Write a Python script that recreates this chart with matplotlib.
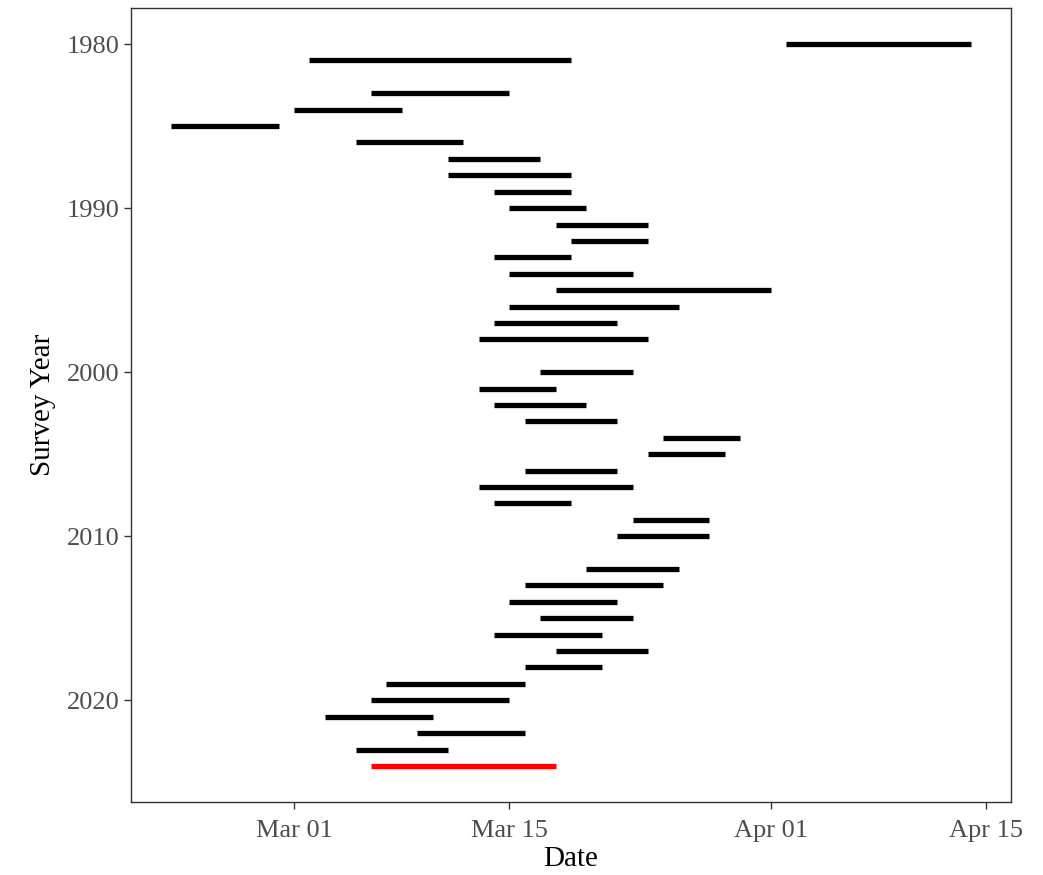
import pandas as pd
import matplotlib
matplotlib.use("Agg")
import matplotlib.pyplot as plt
import matplotlib.dates as mdates

plt.rcParams['font.family'] = ['Liberation Serif', 'DejaVu Serif']

# survey windows (month-day), drawn on a common non-leap year
years = [1980, 1981, 1983, 1984, 1985, 1986, 1987, 1988, 1989, 1990,
         1991, 1992, 1993, 1994, 1995, 1996, 1997, 1998, 2000, 2001,
         2002, 2003, 2004, 2005, 2006, 2007, 2008, 2009, 2010, 2012,
         2013, 2014, 2015, 2016, 2017, 2018, 2019, 2020, 2021, 2022,
         2023, 2024]
start = ['04-02', '03-02', '03-06', '03-01', '02-21', '03-05', '03-11', '03-11', '03-14', '03-15',
         '03-18', '03-19', '03-14', '03-15', '03-18', '03-15', '03-14', '03-13', '03-17', '03-13',
         '03-14', '03-16', '03-25', '03-24', '03-16', '03-13', '03-14', '03-23', '03-22', '03-20',
         '03-16', '03-15', '03-17', '03-14', '03-18', '03-16', '03-07', '03-06', '03-03', '03-09',
         '03-05', '03-06']
end = ['04-14', '03-19', '03-15', '03-08', '02-28', '03-12', '03-17', '03-19', '03-19', '03-20',
       '03-24', '03-24', '03-19', '03-23', '04-01', '03-26', '03-22', '03-24', '03-23', '03-18',
       '03-20', '03-22', '03-30', '03-29', '03-22', '03-23', '03-19', '03-28', '03-28', '03-26',
       '03-25', '03-22', '03-23', '03-21', '03-24', '03-21', '03-16', '03-15', '03-10', '03-16',
       '03-11', '03-18']
highlight_year = 2024

df = pd.DataFrame({'year': years,
                   'start': pd.to_datetime(['2023-' + s for s in start]),
                   'end': pd.to_datetime(['2023-' + s for s in end])})
df['color'] = ['red' if y == highlight_year else 'black' for y in df['year']]

fig = plt.figure(figsize=(10.43, 8.75), dpi=100)
ax = fig.add_axes([0.1256, 0.0834, 0.8437, 0.9075])

ax.hlines(df['year'], mdates.date2num(df['start']), mdates.date2num(df['end']),
          colors=df['color'], linewidth=3.8, capstyle='butt')

# ggplot-style 5% expansion
x0 = mdates.date2num(df['start'].min())
x1 = mdates.date2num(df['end'].max())
pad = (x1 - x0) * 0.05
ax.set_xlim(x0 - pad, x1 + pad)
ypad = (max(years) - min(years)) * 0.05
ax.set_ylim(max(years) + ypad, min(years) - ypad)

ticks = pd.to_datetime(['2023-03-01', '2023-03-15', '2023-04-01', '2023-04-15'])
ax.set_xticks(mdates.date2num(ticks))
ax.set_xticklabels([t.strftime('%b %d') for t in ticks])
ax.set_yticks([1980, 1990, 2000, 2010, 2020])

ax.tick_params(axis='both', direction='out', length=5, width=1, color='#333333',
               labelcolor='#4D4D4D', labelsize=19, pad=3)
ax.tick_params(axis='x', pad=8)
for s in ax.spines.values():
    s.set_color('#333333')
    s.set_linewidth(1)

ax.set_xlabel('Date', fontsize=21, color='black', labelpad=3)
ax.set_ylabel('Survey Year', fontsize=21, color='black', labelpad=8)

fig.savefig('out.png', dpi=100)
